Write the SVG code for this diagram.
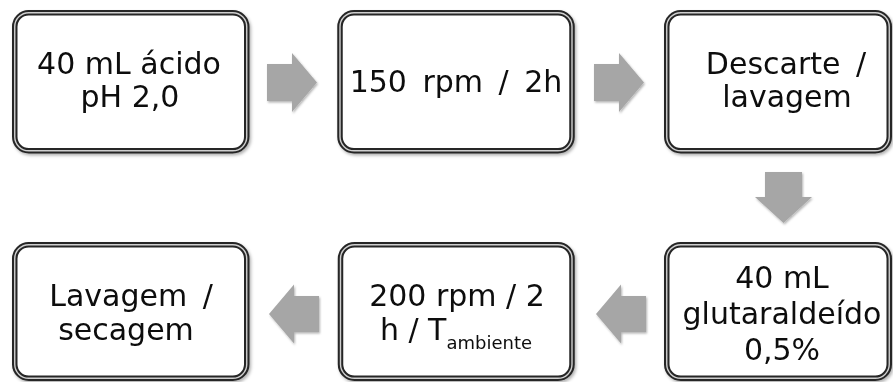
<svg xmlns="http://www.w3.org/2000/svg" width="893" height="382" viewBox="0 0 893 382">
  <style>
    .frame { fill: #ffffff; stroke: #262626; stroke-width: 5.5; }
    .frame-gap { fill: none; stroke: #cfcfcf; stroke-width: 1.4; }
    .label { font-family: "DejaVu Sans", "Liberation Sans", sans-serif; font-size: 30px; fill: #0d0d0d; text-anchor: middle; }
    .wide { word-spacing: 6px; }
    .sub { font-size: 18px; }
    .arrow { fill: #a6a6a6; }
  </style>
  <defs>
    <filter id="boxShadow" x="-5%" y="-5%" width="112%" height="115%">
      <feDropShadow dx="1.5" dy="2" stdDeviation="1.5" flood-color="#000" flood-opacity="0.3"/>
    </filter>
    <filter id="arrowShadow" x="-10%" y="-10%" width="130%" height="130%">
      <feDropShadow dx="1" dy="1.5" stdDeviation="1" flood-color="#000" flood-opacity="0.3"/>
    </filter>
  </defs>

  <rect width="893" height="382" fill="#ffffff"/>

  <!-- connectors: block arrows between steps -->
  <g id="connectors" filter="url(#arrowShadow)">
    <polygon class="arrow" points="267,64 292,64 292,53 317,82.5 292,112 292,101 267,101"/>
    <polygon class="arrow" points="594,64 619,64 619,53 644,82.5 619,112 619,101 594,101"/>
    <polygon class="arrow" points="765,172 802,172 802,197 812,197 783.5,223 755,197 765,197"/>
    <polygon class="arrow" points="646,296 621,296 621,284.5 596,314 621,343.5 621,332 646,332"/>
    <polygon class="arrow" points="319,296 294,296 294,284.5 269,314 294,343.5 294,332 319,332"/>
  </g>

  <!-- top row -->
  <g id="step1" filter="url(#boxShadow)">
    <rect class="frame" x="14.75" y="12.75" width="232" height="138" rx="14"/>
    <rect class="frame-gap" x="14.75" y="12.75" width="232" height="138" rx="14"/>
    <text class="label" x="129" y="74">40 mL ácido</text>
    <text class="label" x="130" y="107">pH 2,0</text>
  </g>

  <g id="step2" filter="url(#boxShadow)">
    <rect class="frame" x="340" y="12.75" width="232" height="138" rx="14"/>
    <rect class="frame-gap" x="340" y="12.75" width="232" height="138" rx="14"/>
    <text class="label wide" x="456" y="92">150 rpm / 2h</text>
  </g>

  <g id="step3" filter="url(#boxShadow)">
    <rect class="frame" x="666.75" y="12.75" width="222.5" height="138" rx="14"/>
    <rect class="frame-gap" x="666.75" y="12.75" width="222.5" height="138" rx="14"/>
    <text class="label wide" x="786" y="74">Descarte /</text>
    <text class="label" x="787" y="107">lavagem</text>
  </g>

  <!-- bottom row -->
  <g id="step4" filter="url(#boxShadow)">
    <rect class="frame" x="14.75" y="244.75" width="232" height="133.5" rx="14"/>
    <rect class="frame-gap" x="14.75" y="244.75" width="232" height="133.5" rx="14"/>
    <text class="label wide" x="131" y="306">Lavagem /</text>
    <text class="label" x="126" y="340">secagem</text>
  </g>

  <g id="step5" filter="url(#boxShadow)">
    <rect class="frame" x="340.5" y="244.75" width="231.5" height="133.5" rx="14"/>
    <rect class="frame-gap" x="340.5" y="244.75" width="231.5" height="133.5" rx="14"/>
    <text class="label" x="457" y="306">200 rpm / 2</text>
    <text class="label" x="456" y="340">h / T<tspan class="sub" dy="9">ambiente</tspan></text>
  </g>

  <g id="step6" filter="url(#boxShadow)">
    <rect class="frame" x="666.75" y="244.75" width="222.5" height="133.5" rx="14"/>
    <rect class="frame-gap" x="666.75" y="244.75" width="222.5" height="133.5" rx="14"/>
    <text class="label" x="782" y="288">40 mL</text>
    <text class="label" x="782" y="324">glutaraldeído</text>
    <text class="label" x="782" y="360">0,5%</text>
  </g>
</svg>
